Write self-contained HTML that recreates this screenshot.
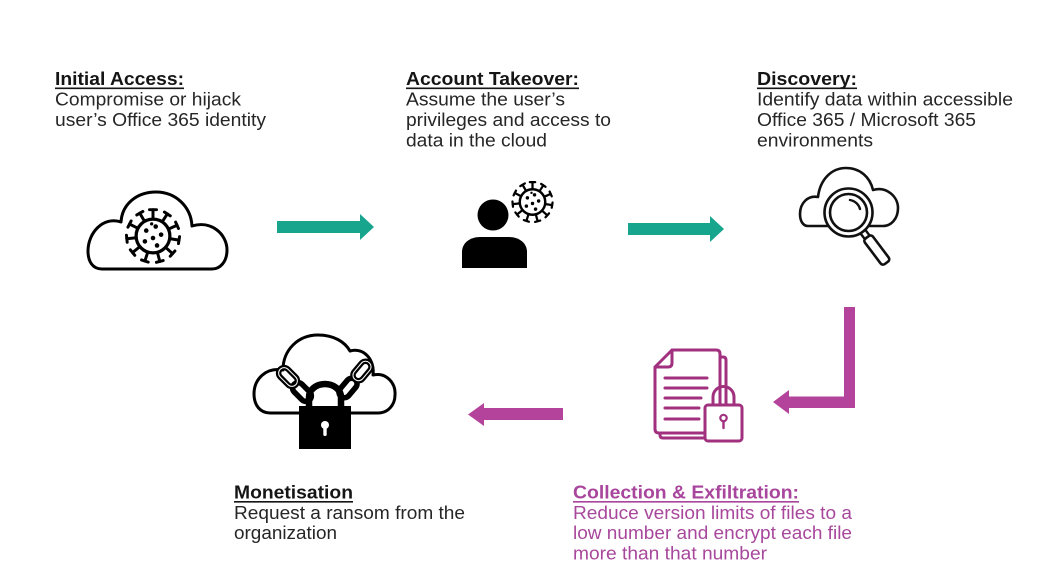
<!DOCTYPE html>
<html>
<head>
<meta charset="utf-8">
<style>
  html,body{margin:0;padding:0;background:#fff;}
  svg{display:block;}
  text{font-family:"Liberation Sans",Arial,sans-serif;font-size:18px;}
  .h{font-weight:bold;fill:#151515;}
  .b{fill:#262626;}
  .ph{font-weight:bold;fill:#a8459c;}
  .pb{fill:#a8489c;}
</style>
</head>
<body>
<svg width="1042" height="583" viewBox="0 0 1042 583" xmlns="http://www.w3.org/2000/svg">
  <rect width="1042" height="583" fill="#fff"/>
  <defs>
    <g id="sp">
      <line x1="0" y1="-12.5" x2="0" y2="-19.5" stroke="#000" stroke-width="2.2" stroke-linecap="round"/>
      <line x1="-2.6" y1="-19.5" x2="2.6" y2="-19.5" stroke="#000" stroke-width="2.2" stroke-linecap="round"/>
    </g>
    <g id="virus">
      <use href="#sp" transform="rotate(0)"/>
      <use href="#sp" transform="rotate(33)"/>
      <use href="#sp" transform="rotate(66)"/>
      <use href="#sp" transform="rotate(99)"/>
      <use href="#sp" transform="rotate(132)"/>
      <use href="#sp" transform="rotate(165)"/>
      <use href="#sp" transform="rotate(198)"/>
      <use href="#sp" transform="rotate(231)"/>
      <use href="#sp" transform="rotate(264)"/>
      <use href="#sp" transform="rotate(297)"/>
      <use href="#sp" transform="rotate(330)"/>
      <circle cx="0" cy="0" r="12.5" fill="#fff" stroke="#000" stroke-width="2.4"/>
      <circle cx="-5" cy="-4" r="1.7" fill="#000"/>
      <circle cx="2" cy="-7" r="1.7" fill="#000"/>
      <circle cx="6" cy="-1" r="1.7" fill="#000"/>
      <circle cx="0" cy="1.5" r="1.7" fill="#000"/>
      <circle cx="-6" cy="4" r="1.7" fill="#000"/>
      <circle cx="3" cy="7" r="1.7" fill="#000"/>
      <circle cx="-1" cy="-9" r="1.2" fill="#000"/>
    </g>
  </defs>

  <!-- ===== Text blocks ===== -->
  <!-- Block 1 -->
  <text class="h" x="55" y="85" textLength="129" lengthAdjust="spacingAndGlyphs">Initial Access:</text>
  <line x1="55" y1="88.3" x2="184" y2="88.3" stroke="#151515" stroke-width="1.6"/>
  <text class="b" x="55" y="105.5" textLength="186" lengthAdjust="spacingAndGlyphs">Compromise or hijack</text>
  <text class="b" x="55" y="126" textLength="211" lengthAdjust="spacingAndGlyphs">user’s Office 365 identity</text>

  <!-- Block 2 -->
  <text class="h" x="406" y="85" textLength="173" lengthAdjust="spacingAndGlyphs">Account Takeover:</text>
  <line x1="406" y1="88.3" x2="579" y2="88.3" stroke="#151515" stroke-width="1.6"/>
  <text class="b" x="406" y="105.5" textLength="159" lengthAdjust="spacingAndGlyphs">Assume the user’s</text>
  <text class="b" x="406" y="126" textLength="205" lengthAdjust="spacingAndGlyphs">privileges and access to</text>
  <text class="b" x="406" y="146.5" textLength="141" lengthAdjust="spacingAndGlyphs">data in the cloud</text>

  <!-- Block 3 -->
  <text class="h" x="757" y="85" textLength="100" lengthAdjust="spacingAndGlyphs">Discovery:</text>
  <line x1="757" y1="88.3" x2="857" y2="88.3" stroke="#151515" stroke-width="1.6"/>
  <text class="b" x="757" y="105.5" textLength="256" lengthAdjust="spacingAndGlyphs">Identify data within accessible</text>
  <text class="b" x="757" y="126" textLength="219" lengthAdjust="spacingAndGlyphs">Office 365 / Microsoft 365</text>
  <text class="b" x="757" y="146.5" textLength="116" lengthAdjust="spacingAndGlyphs">environments</text>

  <!-- Block 4 -->
  <text class="h" x="234" y="498.5" textLength="119" lengthAdjust="spacingAndGlyphs">Monetisation</text>
  <line x1="234" y1="501.8" x2="353" y2="501.8" stroke="#151515" stroke-width="1.6"/>
  <text class="b" x="234" y="519" textLength="231" lengthAdjust="spacingAndGlyphs">Request a ransom from the</text>
  <text class="b" x="234" y="539" textLength="103" lengthAdjust="spacingAndGlyphs">organization</text>

  <!-- Block 5 -->
  <text class="ph" x="573" y="498.5" textLength="226" lengthAdjust="spacingAndGlyphs">Collection &amp; Exfiltration:</text>
  <line x1="573" y1="501.8" x2="799" y2="501.8" stroke="#a8459c" stroke-width="1.6"/>
  <text class="pb" x="573" y="519" textLength="279" lengthAdjust="spacingAndGlyphs">Reduce version limits of files to a</text>
  <text class="pb" x="573" y="539" textLength="279" lengthAdjust="spacingAndGlyphs">low number and encrypt each file</text>
  <text class="pb" x="573" y="559.5" textLength="194" lengthAdjust="spacingAndGlyphs">more than that number</text>

  <!-- ===== Icon 1: cloud with virus ===== -->
  <path d="M 102 269 C 93 269 88 262 88 251 C 88 233 103 216 121 222 C 122 204 137 192 156 192 C 176 192 191 207 192 226 C 211 220 227 234 227 250 C 227 262 220 269 212 269 Z"
        fill="#fff" stroke="#000" stroke-width="3" stroke-linejoin="round"/>
  <g transform="translate(153 236) scale(1.35)"><use href="#virus"/></g>

  <!-- Teal arrow 1 -->
  <rect x="277" y="221" width="84" height="12" fill="#17a58e"/>
  <polygon points="360,214 374,227 360,240" fill="#17a58e"/>

  <!-- ===== Icon 2: person + virus ===== -->
  <circle cx="493" cy="215" r="15.5" fill="#000"/>
  <path d="M 462 268 V 252 C 462 243 470 237 480 237 H 509 C 519 237 527 243 527 252 V 268 Z" fill="#000"/>
  <g transform="translate(532.5 202) scale(1.02)"><use href="#virus"/></g>

  <!-- Teal arrow 2 -->
  <rect x="628" y="223" width="83" height="12" fill="#17a58e"/>
  <polygon points="710,216 724,229 710,242" fill="#17a58e"/>

  <!-- ===== Icon 3: cloud + magnifier ===== -->
  <path d="M 808 226 C 803 226 800 221 800 214 C 800 203 808 195 818 197 C 820 180 831 168 846 168 C 860 168 870 177 873 190 C 887 186 898 197 898 208 C 898 219 891 226 883 226 Z"
        fill="#fff" stroke="#111" stroke-width="2.6" stroke-linejoin="round"/>
  <g transform="translate(848.5 212.5) rotate(53)">
    <rect x="23" y="-3" width="9" height="6" fill="#fff" stroke="#111" stroke-width="2.4"/>
    <rect x="31" y="-5" width="32" height="10" rx="3" fill="#fff" stroke="#111" stroke-width="2.6"/>
  </g>
  <circle cx="848.5" cy="212.5" r="24" fill="#fff" stroke="#111" stroke-width="2.6"/>
  <circle cx="848.5" cy="212.5" r="18.5" fill="#fff" stroke="#111" stroke-width="2.6"/>
  <path d="M 850 200 A 12.5 12.5 0 0 1 860 209" fill="none" stroke="#111" stroke-width="2.4" stroke-linecap="round"/>

  <!-- Purple elbow arrow -->
  <rect x="844" y="307" width="11" height="101" fill="#b4439b"/>
  <rect x="787" y="396.5" width="68" height="11.5" fill="#b4439b"/>
  <polygon points="789,390 773,402 789,414" fill="#b4439b"/>

  <!-- ===== Icon 4: documents + lock (purple) ===== -->
  <g fill="none" stroke="#a1317f" stroke-width="3" stroke-linejoin="round" stroke-linecap="round">
    <path d="M 721 357 H 723 Q 726 357 726 360 V 435 Q 726 438 723 438 H 663 Q 660 438 660 435 V 434"/>
    <path d="M 672 350 H 716 Q 720 350 720 354 V 429 Q 720 433 716 433 H 659 Q 655 433 655 429 V 367 Z" fill="#fff"/>
    <path d="M 655 367 H 668 Q 672 367 672 363 V 350"/>
    <line x1="665" y1="378" x2="707" y2="378"/>
    <line x1="665" y1="388" x2="707" y2="388"/>
    <line x1="665" y1="398" x2="701" y2="398"/>
    <line x1="665" y1="408" x2="699" y2="408"/>
    <line x1="665" y1="419" x2="699" y2="419"/>
    <path d="M 713 406 V 397 A 10.5 10.5 0 0 1 734 397 V 406"/>
    <rect x="705" y="405" width="37" height="36" rx="3" fill="#fff"/>
    <circle cx="723.5" cy="418" r="3.2" stroke-width="2.2"/>
    <line x1="723.5" y1="421.5" x2="723.5" y2="428" stroke-width="2.4"/>
  </g>

  <!-- Purple left arrow -->
  <rect x="482" y="408" width="81" height="12" fill="#b4439b"/>
  <polygon points="484,403 468,414.5 484,426" fill="#b4439b"/>

  <!-- ===== Icon 5: cloud + chains + lock ===== -->
  <path d="M 270 413 C 260 413 254 405 254 394 C 254 379 266 367 283 370 C 283 350 298 335 318 335 C 334 335 345 342 350 351 C 364 347 375 360 373 375 C 386 372 396 383 395 395 C 395 405 388 413 378 413 Z"
        fill="#fff" stroke="#000" stroke-width="3" stroke-linejoin="round"/>
  <!-- chains -->
  <g fill="none" stroke="#000" stroke-width="5.5">
    <rect x="-11" y="-5.5" width="22" height="11" rx="5.5" transform="translate(288 377) rotate(45)"/>
    <rect x="-11" y="-5.5" width="22" height="11" rx="5.5" transform="translate(302 392) rotate(45)"/>
    <rect x="-11" y="-5.5" width="22" height="11" rx="5.5" transform="translate(362 371) rotate(-50)"/>
    <rect x="-11" y="-5.5" width="22" height="11" rx="5.5" transform="translate(348 388) rotate(-50)"/>
    <path d="M 309 407 V 397 A 16 13 0 0 1 341 397 V 407" stroke-width="6.5"/>
  </g>
  <g fill="none" stroke="#fff" stroke-width="1">
    <rect x="-11" y="-5.5" width="22" height="11" rx="5.5" transform="translate(288 377) rotate(45)"/>
    <rect x="-11" y="-5.5" width="22" height="11" rx="5.5" transform="translate(362 371) rotate(-50)"/>
  </g>
  <!-- lock body -->
  <rect x="299" y="406" width="52" height="43" fill="#000"/>
  <circle cx="325" cy="425" r="4" fill="#fff"/>
  <rect x="323.3" y="426" width="3.4" height="10" rx="1.5" fill="#fff"/>
</svg>
</body>
</html>
